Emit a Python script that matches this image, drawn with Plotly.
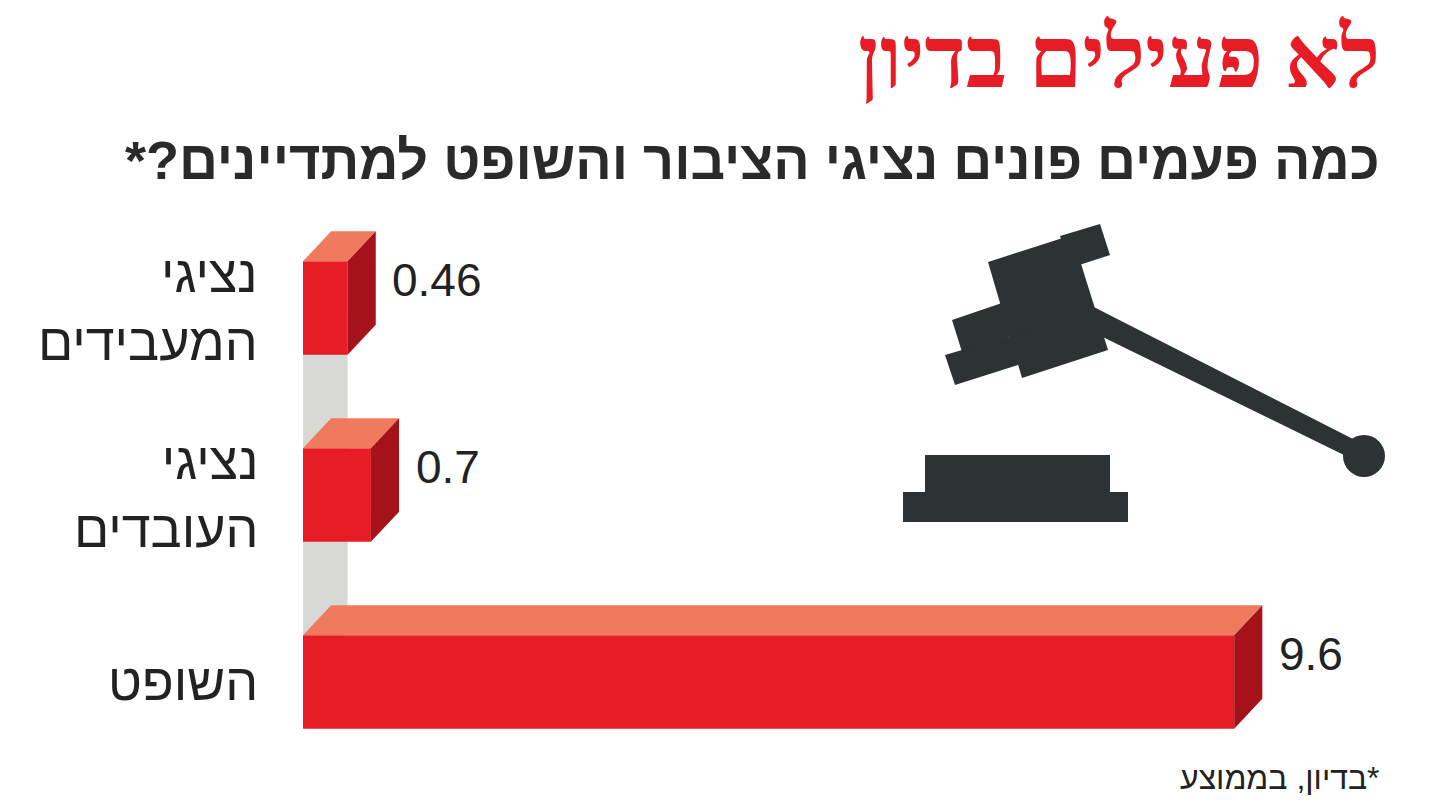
import plotly.graph_objects as go

labels = ["השופט", "נציגי<br>העובדים", "נציגי<br>המעבידים"]
values = [9.6, 0.7, 0.46]
value_text = ["9.6", "0.7", "0.46"]

W, H = 1429, 812
OFF = 8
FRONT, TOP, SIDE, GRAY, DARK = "#e81c24", "#f07a5e", "#a5121a", "#d8d8d4", "#2d3335"
half = 0.25; dx = 0.29; dy = 0.16
pos = list(range(len(values)))

fig = go.Figure()
fig.add_shape(type="rect", x0=0, x1=min(values), y0=pos[0], y1=pos[-1], fillcolor=GRAY, line_width=0, layer="below")
for c, v in zip(pos, values):
    fig.add_trace(go.Scatter(x=[0, v, v+dx, dx, 0], y=[c+half, c+half, c+half+dy, c+half+dy, c+half],
                             fill="toself", fillcolor=TOP, line_width=0, mode="lines", hoverinfo="skip"))
    fig.add_trace(go.Scatter(x=[v, v+dx, v+dx, v, v], y=[c-half, c-half+dy, c+half+dy, c+half, c-half],
                             fill="toself", fillcolor=SIDE, line_width=0, mode="lines", hoverinfo="skip"))
fig.add_trace(go.Bar(x=values, y=pos, orientation="h", width=2*half, marker_color=FRONT,
                     marker_line_width=0, hoverinfo="skip"))
for c, v, t in zip(pos, values, value_text):
    fig.add_annotation(x=v+dx+0.15, y=c+0.15, text=t, showarrow=False, xanchor="left",
                       font=dict(size=46, color="#222", family="Liberation Sans"))
for c, l in zip(pos, labels):
    fig.add_annotation(x=(260-OFF)/W, xref="paper", y=c, text=l, showarrow=False, xanchor="right", align="right",
                       font=dict(size=52, color="#222", family="Liberation Sans"))

def P(x, y):
    return (x - OFF) / W, 1 - (y - OFF) / H

def txt(x, y, text, size, color, family, bold=False):
    px, py = P(x, y)
    fig.add_annotation(x=px, y=py, xref="paper", yref="paper", text=("<b>%s</b>" % text) if bold else text,
                       showarrow=False, xanchor="right", yanchor="middle",
                       font=dict(size=size, color=color, family=family))

txt(1382, 58, "לא פעילים בדיון", 86, "#e81c24", "Liberation Sans Narrow", True)
txt(1382, 160, "כמה פעמים פונים נציגי הציבור והשופט למתדיינים?*\u200f", 54, "#2a2a2a", "Liberation Sans", True)
txt(1382, 778, "\u200f*בדיון, בממוצע", 32, "#222", "Liberation Sans")

def path(pts):
    s = ""
    for i, (x, y) in enumerate(pts):
        px, py = P(x, y)
        s += ("M" if i == 0 else " L") + f" {px} {py}"
    return s + " Z"

def poly(pts):
    fig.add_shape(type="path", path=path(pts), xref="paper", yref="paper", fillcolor=DARK, line_width=0)

def box(a, b, c, d, r=False):
    x0, y0 = P(a, b); x1, y1 = P(c, d)
    fig.add_shape(type="circle" if r else "rect", x0=x0, y0=y0, x1=x1, y1=y1, xref="paper", yref="paper",
                  fillcolor=DARK, line_width=0)

# gavel (decorative)
poly([(1080, 300), (1355, 440), (1350, 458), (1072, 322)])
poly([(988, 262), (1072, 235), (1108, 350), (1022, 378)])
poly([(945, 355), (1030, 330), (1040, 358), (955, 385)])
poly([(962, 352), (1035, 328), (1025, 295), (952, 320)])
poly([(1060, 236), (1100, 224), (1110, 255), (1070, 268)])
box(1343, 435, 1385, 477, True)
box(925, 455, 1110, 492)
box(903, 492, 1128, 522)

fig.update_layout(width=W, height=H, margin=dict(l=0, r=0, t=0, b=0), showlegend=False,
                  plot_bgcolor="white", paper_bgcolor="white")
fig.update_xaxes(domain=[(303-OFF)/W, 1], range=[0, (W-303+OFF)/97], visible=False)
fig.update_yaxes(range=[-(H-(682-OFF))/187, (682-OFF)/187], visible=False)
fig.write_html("out.html")
